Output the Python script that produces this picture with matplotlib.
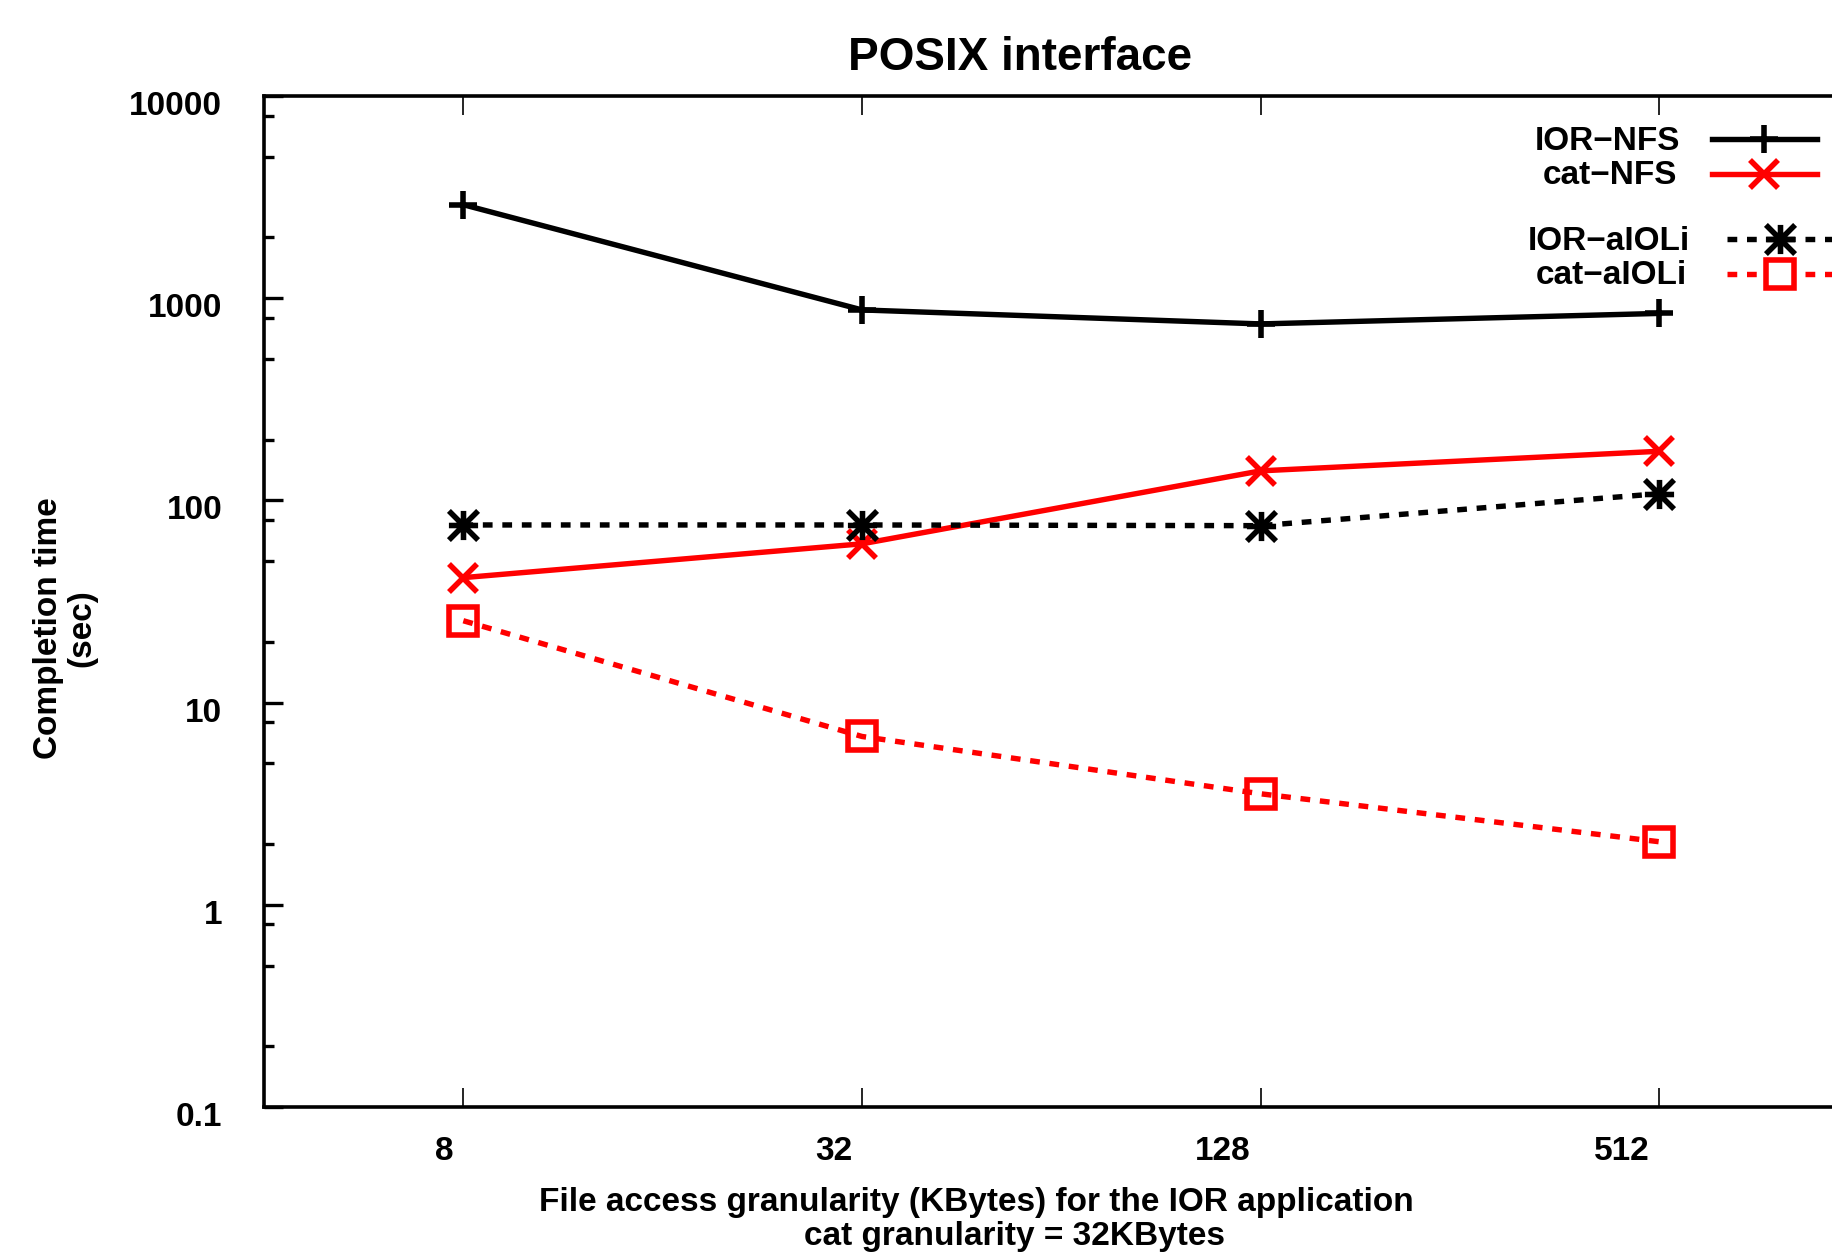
import matplotlib
matplotlib.use("Agg")
import matplotlib.pyplot as plt
import matplotlib.transforms as mtransforms
from matplotlib.lines import Line2D
from matplotlib.path import Path
from matplotlib.ticker import NullLocator, FixedLocator

plt.rcParams['font.family'] = ['Liberation Sans', 'DejaVu Sans']
plt.rcParams['font.weight'] = 'bold'

# --- data ---
granularity = [8, 32, 128, 512]
ior_nfs = [2900, 875, 746, 841]
cat_nfs = [41.5, 61, 140, 175]
ior_aioli = [75.6, 75.6, 75, 108]
cat_aioli = [25.4, 6.8, 3.54, 2.05]

y_ticks = [0.1, 1, 10, 100, 1000, 10000]
y_ticklabels = ['0.1', '1', '10', '100', '1000', '10000']
y_minor = [m * 10.0 ** e for e in range(-1, 4) for m in (2, 5, 8)]

# gnuplot style asterisk: a "+" and an "x" on top of each other
asterisk = Path(
    [(-0.5, 0), (0.5, 0), (0, -0.5), (0, 0.5),
     (-0.5, -0.5), (0.5, 0.5), (-0.5, 0.5), (0.5, -0.5)],
    [Path.MOVETO, Path.LINETO] * 4)

W, H = 1833, 1252
fig = plt.figure(figsize=(W / 100, H / 100), dpi=100)

# axes: left 264px, top 96px, bottom 1107px, right edge is cut off by the image
ax = fig.add_axes([264 / W, 1 - 1107 / H, (2058 - 264) / W, (1107 - 96) / H])
ax.set_xscale('log', base=2)
ax.set_yscale('log')
ax.set_xlim(4, 2048)
ax.set_ylim(0.1, 10000)

lw = 3.9
dash = (1.8, 1.8)
mew = 4
series = [
    (ior_nfs, 'black', '-', '+', 20, 'IOR\u2212NFS'),
    (cat_nfs, 'red', '-', 'x', 20, 'cat\u2212NFS'),
    (ior_aioli, 'black', '--', asterisk, 21, 'IOR\u2212aIOLi'),
    (cat_aioli, 'red', '--', 's', 20, 'cat\u2212aIOLi'),
]
for vals, c, ls, mk, ms, lab in series:
    line, = ax.plot(granularity, vals, color=c, lw=lw, ls=ls, marker=mk,
                    ms=ms, mew=mew, mfc='none', mec=c, clip_on=False,
                    dash_capstyle='butt')
    if ls == '--':
        line.set_dashes(dash)

# spines
for s in ['left', 'top', 'bottom']:
    ax.spines[s].set_linewidth(2.6)
ax.spines['right'].set_visible(False)

# ticks
ax.xaxis.set_major_locator(FixedLocator(granularity))
ax.xaxis.set_minor_locator(NullLocator())
ax.set_xticklabels([str(g) for g in granularity])
ax.tick_params(axis='x', which='major', direction='in', length=14, width=1.2,
               top=True, bottom=True, labelsize=24, pad=21)
ax.set_yticks(y_ticks)
ax.set_yticklabels(y_ticklabels)
ax.yaxis.set_minor_locator(FixedLocator(y_minor))
ax.tick_params(axis='y', which='major', direction='in', length=14, width=2.4,
               left=True, right=False, labelsize=24, pad=30)
ax.tick_params(axis='y', which='minor', direction='in', length=7, width=2.4,
               left=True, right=False)

for lbl in ax.get_xticklabels():
    lbl.set_ha('right')
    lbl.set_transform(lbl.get_transform() +
                      mtransforms.ScaledTranslation(-0.10, 0, fig.dpi_scale_trans))
for lbl in ax.get_yticklabels():
    lbl.set_transform(lbl.get_transform() +
                      mtransforms.ScaledTranslation(0, -0.07, fig.dpi_scale_trans))

# titles and labels
fig.text(1020 / W, 1 - 58 / H, 'POSIX interface', ha='center', va='center',
         fontsize=33, fontweight='bold')
fig.text(976 / W, 1 - 1202 / H, 'File access granularity (KBytes) for the IOR application',
         ha='center', va='center', fontsize=24, fontweight='bold')
fig.text(1015 / W, 1 - 1236 / H, 'cat granularity = 32KBytes',
         ha='center', va='center', fontsize=24, fontweight='bold')
fig.text(49 / W, 1 - 628 / H, 'Completion time', rotation=90, ha='center', va='center',
         fontsize=24, fontweight='bold')
fig.text(82 / W, 1 - 628 / H, '(sec)', rotation=90, ha='center', va='center',
         fontsize=24, fontweight='bold')

# legend drawn by hand (text right-aligned, sample to the right)
legend_rows = [
    # text right x, y, line x0, x1, marker x
    (1680, 139, 1712, 1817, 1764),
    (1677, 174, 1712, 1817, 1764),
    (1690, 239, 1727, 1840, 1780),
    (1687, 274, 1727, 1840, 1780),
]
for (vals, c, ls, mk, ms, lab), (tx, ty, x0, x1, mx) in zip(series, legend_rows):
    fig.text(tx / W, 1 - (ty + 2) / H, lab, ha='right', va='center', fontsize=24,
             fontweight='bold')
    ln = Line2D([x0 / W, x1 / W], [1 - ty / H, 1 - ty / H], color=c, lw=lw, ls=ls,
                transform=fig.transFigure, dash_capstyle='butt')
    if ls == '--':
        ln.set_dashes(dash)
    fig.add_artist(ln)
    fig.add_artist(Line2D([mx / W], [1 - ty / H], color=c, marker=mk, ms=ms, mew=mew,
                          mfc='white' if mk == 's' else 'none', mec=c, ls='none',
                          transform=fig.transFigure))

fig.savefig('out.png', dpi=100)
